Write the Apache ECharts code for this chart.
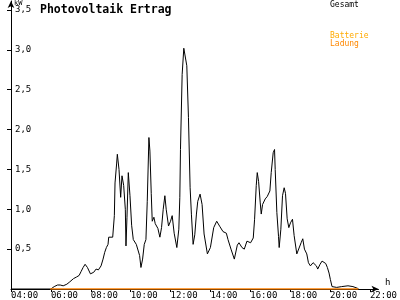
<!DOCTYPE html>
<html>
<head>
<meta charset="utf-8">
<script src="https://cdn.jsdelivr.net/npm/echarts@6/dist/echarts.min.js"></script>
<style>html,body{margin:0;padding:0;background:#fff}#c{width:400px;height:300px}</style>
</head>
<body>
<div id="c"></div>
<script>
const chartTitle = "Photovoltaik Ertrag";
const yUnit = "kW";
const xUnit = "h";
const legendGesamt = "Gesamt";
const legendBatterie = ["Batterie", "Ladung"];
const yTicks = [0.5, 1.0, 1.5, 2.0, 2.5, 3.0, 3.5];
const xTicks = [4, 6, 8, 10, 12, 14, 16, 18, 20, 22];

const gesamtTimes = ["04:00","06:00","06:05","06:10","06:20","06:28","06:37","06:42","06:48","06:57","07:02","07:08","07:17","07:22","07:25","07:31","07:37","07:43","07:50","07:59","08:09","08:16","08:23","08:31","08:37","08:42","08:47","08:52","08:54","08:59","09:06","09:11","09:13","09:18","09:20","09:25","09:30","09:34","09:39","09:44","09:46","09:49","09:53","09:58","10:03","10:08","10:17","10:27","10:31","10:36","10:41","10:46","10:50","10:55","10:58","11:02","11:05","11:10","11:14","11:22","11:28","11:33","11:38","11:43","11:47","11:54","12:00","12:05","12:11","12:19","12:25","12:28","12:30","12:35","12:40","12:46","12:49","12:54","12:59","13:03","13:08","13:13","13:18","13:22","13:29","13:35","13:41","13:51","13:56","14:00","14:10","14:19","14:29","14:38","14:48","14:53","15:02","15:12","15:21","15:26","15:35","15:42","15:50","15:54","16:01","16:09","16:13","16:18","16:21","16:25","16:30","16:33","16:37","16:45","16:51","16:59","17:03","17:09","17:13","17:15","17:20","17:25","17:27","17:32","17:37","17:42","17:46","17:51","17:56","18:01","18:07","18:12","18:20","18:26","18:33","18:38","18:43","18:50","18:55","19:01","19:09","19:14","19:19","19:23","19:30","19:36","19:42","19:47","19:52","19:57","20:01","20:06","20:11","20:20","20:35","20:54","21:09","21:22","21:26"];
const gesamtValues = [0,0,0.01,0.03,0.05,0.05,0.04,0.05,0.06,0.09,0.11,0.13,0.15,0.16,0.17,0.22,0.27,0.31,0.27,0.19,0.21,0.25,0.24,0.29,0.375,0.46,0.52,0.56,0.65,0.63,0.65,0.92,1.33,1.58,1.69,1.5,1.15,1.42,1.3,1.0,0.54,0.9,1.46,1.17,0.8,0.62,0.56,0.42,0.27,0.375,0.56,0.62,1.1,1.9,1.73,1.2,0.85,0.9,0.82,0.76,0.65,0.77,1.0,1.17,1.0,0.79,0.85,0.92,0.7,0.52,0.75,1.15,1.75,2.69,3.02,3.02,2.8,2.15,1.27,0.93,0.56,0.68,0.94,1.1,1.19,1.06,0.69,0.44,0.42,0.52,0.77,0.85,0.78,0.72,0.7,0.62,0.5,0.375,0.55,0.58,0.52,0.5,0.6,0.62,0.58,0.64,0.875,1.3,1.46,1.35,1.08,0.94,1.06,1.13,1.16,1.23,1.46,1.71,1.75,1.5,0.96,0.66,0.52,0.75,1.17,1.27,1.2,0.88,0.77,0.83,0.875,0.67,0.44,0.44,0.58,0.63,0.5,0.44,0.33,0.29,0.33,0.31,0.29,0.25,0.31,0.35,0.35,0.32,0.27,0.2,0.12,0.03,0.02,0.02,0.03,0.04,0.03,0.01,0];

const batterieTimes = ["05:58","21:25"];
const batterieValues = [0, 0];

function toHours(s){ const p = s.split(":"); return +p[0] + (+p[1])/60; }
function pair(times, vals){ return times.map((t,i)=>[toHours(t), vals[i]]); }
function pad(n){ return (n<10?"0":"")+n; }

const FONT = "DejaVu Sans Mono";
const chart = echarts.init(document.getElementById('c'), null, {renderer:'canvas'});
chart.setOption({
  animation:false,
  backgroundColor:'#fff',
  title:{ text: chartTitle, left:40, top:4, padding:0, textStyle:{ fontFamily:FONT, fontWeight:'bold', fontSize:11.5, color:'#000' } },
  grid:{ left:11, right:1, top:1, bottom:10 },
  xAxis:{
    type:'value', min:4, max:22.43, interval:2,
    splitLine:{show:false},
    axisLine:{ show:true, lineStyle:{color:'#000', width:1}, symbol:['none','arrow'], symbolSize:[5,7] },
    axisTick:{ show:true, length:3, inside:false, customValues:xTicks, lineStyle:{color:'#000'} },
    axisLabel:{ customValues:xTicks, formatter:v=>pad(v)+":00", align:'left', margin:2, fontFamily:FONT, fontSize:9, color:'#000' }
  },
  yAxis:{
    type:'value', min:0, max:3.6125, interval:0.5,
    splitLine:{show:false},
    axisLine:{ show:true, lineStyle:{color:'#000', width:1}, symbol:['none','arrow'], symbolSize:[5,7] },
    axisTick:{ show:true, length:4, inside:false, customValues:yTicks, lineStyle:{color:'#000'} },
    axisLabel:{ inside:true, customValues:yTicks, formatter:v=>v.toFixed(1).replace('.',','), margin:4, fontFamily:FONT, fontSize:9, color:'#000' }
  },
  graphic:[
    { type:'text', left:14, top:0, style:{ text:yUnit, font:'7px '+FONT, fill:'#000' } },
    { type:'text', left:385, top:278, style:{ text:xUnit, font:'9px '+FONT, fill:'#000' } },
    { type:'text', left:330, top:1, style:{ text:legendGesamt, font:'8px '+FONT, fill:'#000' } },
    { type:'text', left:330, top:32, style:{ text:legendBatterie[0], font:'8px '+FONT, fill:'#FFAA00' } },
    { type:'text', left:330, top:40, style:{ text:legendBatterie[1], font:'8px '+FONT, fill:'#FF8800' } }
  ],
  series:[
    { name:legendGesamt, type:'line', data:pair(gesamtTimes, gesamtValues), showSymbol:false, lineStyle:{color:'#000', width:1}, z:2 },
    { name:legendBatterie.join(' '), type:'line', data:pair(batterieTimes, batterieValues), showSymbol:false, lineStyle:{color:'#FF8000', width:1.5}, z:3 }
  ]
});
</script>
</body>
</html>
